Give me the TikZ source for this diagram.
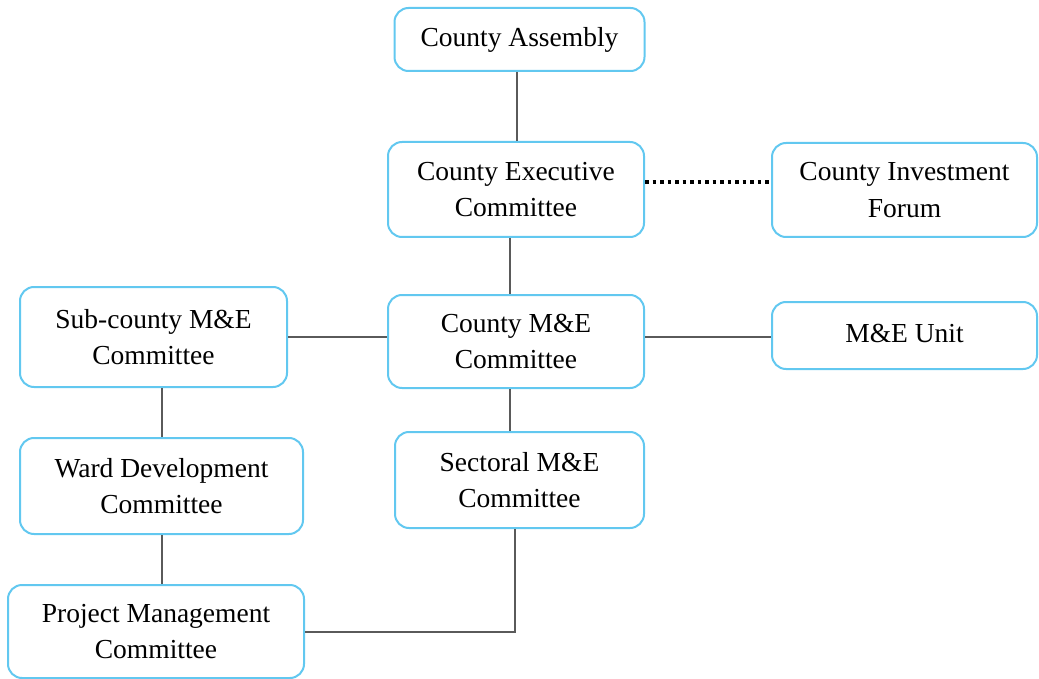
\documentclass[tikz,border=0pt]{standalone}
\usepackage{fontspec}
\setmainfont{Liberation Serif}
\begin{document}
\begin{tikzpicture}[x=1pt,y=-1pt,
  box/.style={draw=boxblue, line width=2pt, rounded corners=14pt, fill=white,
    align=center, inner sep=0pt, font=\fontsize{27.5}{36.5}\selectfont, text=black},
  link/.style={draw=linegray, line width=2pt},
  dotlink/.style={draw=black, line width=3.5pt, dash pattern=on 3.5pt off 4pt}]
\definecolor{boxblue}{RGB}{98,200,240}
\definecolor{linegray}{RGB}{90,90,90}
\useasboundingbox (0,0) rectangle (1039,679);
\node[box, minimum width=250pt, minimum height=63pt] (ca) at (519.5,39.5) {County Assembly};
\node[box, minimum width=256pt, minimum height=95pt] (ce) at (516,189.5) {County Executive\\Committee};
\node[box, minimum width=265pt, minimum height=94pt] (cif) at (904.5,190) {County Investment\\Forum};
\node[box, minimum width=267pt, minimum height=100pt] (sc) at (153.5,337) {Sub-county M\&E\\Committee};
\node[box, minimum width=256pt, minimum height=93pt] (cme) at (516,341.5) {County M\&E\\Committee};
\node[box, minimum width=265pt, minimum height=67pt] (meu) at (904.5,335.5) {\raisebox{5pt}{M\&E Unit}};
\node[box, minimum width=283pt, minimum height=96pt] (wd) at (161.5,486) {Ward Development\\Committee};
\node[box, minimum width=249pt, minimum height=96pt] (sec) at (519.5,480) {Sectoral M\&E\\Committee};
\node[box, minimum width=296pt, minimum height=93pt] (pm) at (156,631.5) {Project Management\\Committee};
% connectors
\draw[link] ([xshift=-2.5pt]ca.south) -- ([xshift=-2.5pt]ca.south |- ce.north);
\draw[link] ([xshift=-6pt]ce.south) -- ([xshift=-6pt]ce.south |- cme.north);
\draw[link] ([xshift=-6pt]cme.south) -- ([xshift=-6pt]cme.south |- sec.north);
\draw[dotlink] ([yshift=7.5pt]ce.east) -- ([yshift=7.5pt]ce.east -| cif.west);
\draw[link] (sc.east) -- (sc.east -| cme.west);
\draw[link] ([yshift=4.5pt]cme.east) -- ([yshift=4.5pt]cme.east -| meu.west);
\draw[link] (wd.north |- sc.south) -- (wd.north);
\draw[link] (wd.south) -- (wd.south |- pm.north);
\draw[link] ([xshift=-4.5pt]sec.south) |- (pm.east);
\end{tikzpicture}
\end{document}
